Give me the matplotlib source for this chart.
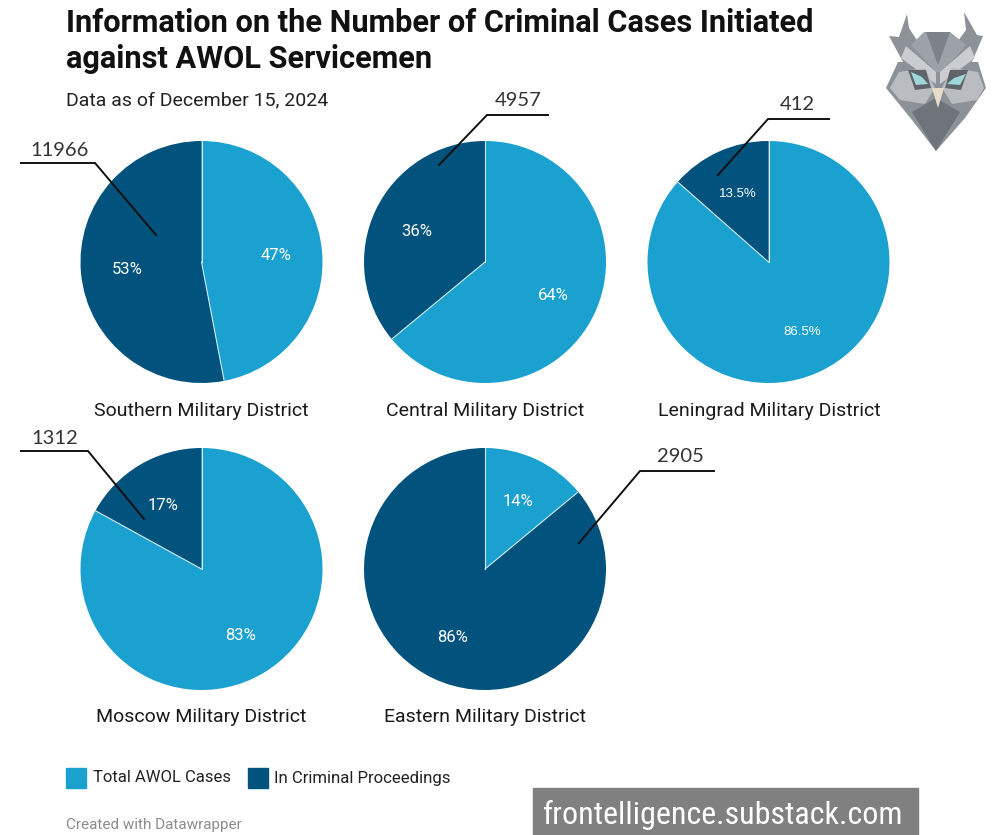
import numpy as np
import matplotlib
matplotlib.use('Agg')
import matplotlib.pyplot as plt
from matplotlib.patches import Polygon, Rectangle

plt.rcParams['font.family'] = ['Roboto', 'DejaVu Sans']

LIGHT = '#1aa1cf'
DARK = '#01527c'

# share of each district, in percent
districts = ['Southern Military District', 'Central Military District', 'Leningrad Military District',
             'Moscow Military District', 'Eastern Military District']
total_awol = [47, 64, 86.5, 83, 14]
in_criminal = [53, 36, 13.5, 17, 86]
total_labels = ['47%', '64%', '86.5%', '83%', '14%']
criminal_labels = ['53%', '36%', '13.5%', '17%', '86%']
case_counts = ['11966', '4957', '412', '1312', '2905']

W, H = 1000, 835
fig = plt.figure(figsize=(10, 8.35), dpi=100, facecolor='white')

# overlay in pixel coordinates for texts and callouts
ov = fig.add_axes([0, 0, 1, 1], zorder=5)
ov.set_xlim(0, W)
ov.set_ylim(H, 0)
ov.axis('off')
ov.patch.set_alpha(0)

centers = [(201.5, 262), (485, 262), (768.5, 262), (201.5, 569), (485, 569)]
radius = 121

# label spots, number text and leader line for each pie
total_pos = [(276.5, 256), (553.5, 295), (802, 332), (240.5, 635), (517.5, 502)]
crim_pos = [(127, 270), (417, 231), (738, 194), (163, 506), (453, 638)]
count_pos = [(60, 150), (518, 101), (797, 105), (55, 438), (680, 457)]
name_y = [411, 411, 411, 717, 717]
leaders = [[(21, 163), (95, 163), (156, 235)],
           [(548, 115), (487, 115), (439, 165)],
           [(829, 119), (768, 119), (718, 175)],
           [(21, 451), (88, 451), (144, 519)],
           [(714, 471), (640, 471), (579, 543)]]

for i, name in enumerate(districts):
    cx, cy = centers[i]
    ax = fig.add_axes([(cx - radius) / W, 1 - (cy + radius) / H, 2 * radius / W, 2 * radius / H])
    ax.pie([total_awol[i], in_criminal[i]], colors=[LIGHT, DARK], startangle=90, counterclock=False,
           radius=1, wedgeprops={'edgecolor': 'none'})
    ax.set_xlim(-1, 1)
    ax.set_ylim(-1, 1)
    # thin pale dividers between the two slices, no outer rim
    for ang in [np.pi / 2, np.pi / 2 - 2 * np.pi * total_awol[i] / (total_awol[i] + in_criminal[i])]:
        ax.plot([0, np.cos(ang)], [0, np.sin(ang)], color='#cfe9f3', lw=0.8)

    small = name.startswith('Leningrad')
    fam = ['Liberation Sans'] if small else ['Roboto']
    size = 9.5 if small else 12
    ov.text(*total_pos[i], total_labels[i], color='white', ha='center', va='center', fontsize=size, family=fam)
    ov.text(*crim_pos[i], criminal_labels[i], color='white', ha='center', va='center', fontsize=size, family=fam)

    ov.text(cx + (1 if small else 0), name_y[i], name, color='#1a1a1a', ha='center', va='center', fontsize=14)
    ov.text(*count_pos[i], case_counts[i], color='#333333', ha='center', va='center', fontsize=14.5,
            family=['Lato'])
    xs, ys = zip(*leaders[i])
    ov.plot(xs, ys, color='#111111', lw=1.4, solid_joinstyle='miter')

# heading
ov.text(66.5, 23.5, 'Information on the Number of Criminal Cases Initiated', fontsize=22.15, fontweight='bold',
        color='#111111', va='center')
ov.text(66.5, 59, 'against AWOL Servicemen', fontsize=22.15, fontweight='bold', color='#111111', va='center')
ov.text(66.5, 100.5, 'Data as of December 15, 2024', fontsize=14, color='#222222', va='center')

# legend
ov.add_patch(Rectangle((66, 768), 20, 20, color=LIGHT))
ov.text(93, 778, 'Total AWOL Cases', fontsize=12, color='#222222', va='center')
ov.add_patch(Rectangle((248, 768), 20, 20, color=DARK))
ov.text(274, 778, 'In Criminal Proceedings', fontsize=12.1, color='#222222', va='center')

ov.text(66.5, 824.5, 'Created with Datawrapper', fontsize=11, color='#8c8c8c', va='center')

# watermark
ov.add_patch(Rectangle((533, 788), 385, 47, color='#808080'))
ov.text(723, 815, 'frontelligence.substack.com', fontsize=23, color='white', ha='center', va='center',
        family=['Roboto Condensed', 'Roboto'])

# owl logo, rough facets
owl = [
    # horns
    ('#8d9299', [(899, 37), (907, 14), (909, 28), (920, 45), (936, 68), (926, 76), (903, 62), (889, 36)]),
    ('#8d9299', [(977, 35), (964, 12), (966, 30), (955, 45), (940, 68), (950, 76), (972, 62), (983, 36)]),
    # head and lower face
    ('#8d9299', [(898, 62), (938, 62), (978, 62), (986, 88), (965, 118), (936, 151), (912, 120), (886, 88)]),
    ('#9da2a8', [(911, 45), (924, 32), (950, 32), (966, 45), (942, 72), (936, 72)]),
    ('#7d8289', [(926, 32), (950, 32), (938, 65)]),
    ('#c9ccd0', [(906, 46), (936, 72), (936, 84), (901, 58)]),
    ('#c9ccd0', [(970, 46), (940, 72), (940, 84), (975, 58)]),
    ('#b9bdc2', [(899, 72), (925, 68), (935, 88), (925, 104), (900, 100), (890, 88)]),
    ('#b9bdc2', [(978, 72), (952, 68), (942, 88), (952, 104), (977, 100), (984, 88)]),
    ('#6f747b', [(912, 112), (936, 98), (960, 112), (936, 151)]),
    ('#e8dccb', [(932, 88), (944, 88), (938, 108)]),
    ('#5f646b', [(908, 70), (926, 70), (931, 88), (915, 90)]),
    ('#5f646b', [(968, 70), (950, 70), (945, 88), (961, 90)]),
    ('#9fd6d8', [(911, 72), (922, 77), (928, 84), (916, 85)]),
    ('#9fd6d8', [(966, 74), (954, 78), (947, 84), (960, 85)]),
]
for col, pts in owl:
    ov.add_patch(Polygon(pts, closed=True, facecolor=col, edgecolor='none'))

fig.savefig('out.png', dpi=100)
